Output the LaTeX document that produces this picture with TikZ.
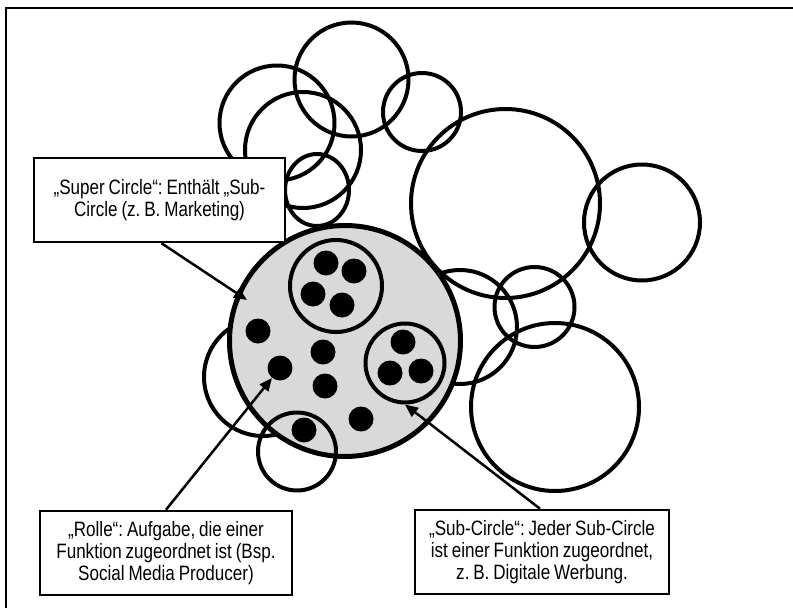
\documentclass[tikz,border=0pt]{standalone}
\usepackage{fontspec}
\setmainfont[FakeStretch=0.82,WordSpace=0.82]{Liberation Sans}
\usetikzlibrary{arrows.meta}
\definecolor{circgray}{HTML}{D9D9D9}
\frenchspacing
\begin{document}
\begin{tikzpicture}[x=1pt,y=-1pt,
  ring/.style={line width=4pt},
  supercirc/.style={circle, draw, line width=5pt, fill=circgray, inner sep=0pt},
  subcirc/.style={circle, draw, line width=4pt, inner sep=0pt},
  dot/.style={circle, fill=black, minimum size=25pt, inner sep=0pt},
  labelbox/.style={draw, fill=white, line width=2.5pt, inner sep=0pt,
    align=center, font=\fontsize{20.8pt}{22pt}\selectfont\frenchspacing},
  arr/.style={line width=2.5pt, -{Triangle[length=13pt,width=11pt]}}]
\useasboundingbox (0,0) rectangle (793,608);
% frame
\draw[line width=2pt] (6,612) -- (6,7.5) -- (796,7.5);
% background circles
\draw[ring] (277,123) circle [radius=57.5];
\draw[ring] (351.5,79.5) circle [radius=57];
\draw[ring] (303,150) circle [radius=58];
\draw[ring] (317,190) ellipse [x radius=32, y radius=36];
\draw[ring] (422,112) circle [radius=39];
\draw[ring] (505.5,203.5) circle [radius=94.5];
\draw[ring] (642,222.5) circle [radius=58];
\draw[ring] (460,327) circle [radius=57];
\draw[ring] (534.5,307) circle [radius=40];
\draw[ring] (555,407) circle [radius=84];
\draw[ring] (263,377) circle [radius=59];
% super circle
\node[supercirc, minimum size=231pt] (super) at (345,341) {};
% sub circles
\node[subcirc, minimum size=92pt] (sc1) at (336,286) {};
\node[subcirc, minimum size=79pt] (sc2) at (405,363) {};
% dots in sub circle 1
\node[dot] (a1) at (326,263) {};
\node[dot] (a2) at (354,271) {};
\node[dot] (a3) at (313,294) {};
\node[dot] (a4) at (342,305) {};
% dots in sub circle 2
\node[dot] (b1) at (403,342) {};
\node[dot] (b2) at (390,373) {};
\node[dot] (b3) at (421,371) {};
% loose dots
\node[dot] (d1) at (258,331) {};
\node[dot] (d2) at (280,368) {};
\node[dot] (d3) at (323,352) {};
\node[dot] (d4) at (325,386) {};
\node[dot] (d5) at (361,419) {};
\node[dot] (d6) at (304,430) {};
% circle overlapping bottom
\draw[ring] (297,451.5) circle [radius=39];
% label boxes
\node[labelbox, minimum width=251pt, minimum height=84pt] (superbox) at (159.5,200)
  {„Super Circle“: Enthält „Sub-\\Circle (z. B. Marketing)};
\node[labelbox, minimum width=252pt, minimum height=84pt] (rollebox) at (166,553)
  {„Rolle“: Aufgabe, die einer\\Funktion zugeordnet ist (Bsp.\\Social Media Producer)};
\node[labelbox, minimum width=254pt, minimum height=84pt] (subbox) at (542,552)
  {„Sub-Circle“: Jeder Sub-Circle\\ist einer Funktion zugeordnet,\\z. B. Digitale Werbung.};
% arrows
\coordinate (supertip) at (247,300);
\draw[arr] ([xshift=2pt]superbox.south) -- (supertip);
\draw[arr] (rollebox.north) -- (d2);
\draw[arr] ([xshift=-2pt]subbox.north) -- (sc2.south);
\end{tikzpicture}
\end{document}
